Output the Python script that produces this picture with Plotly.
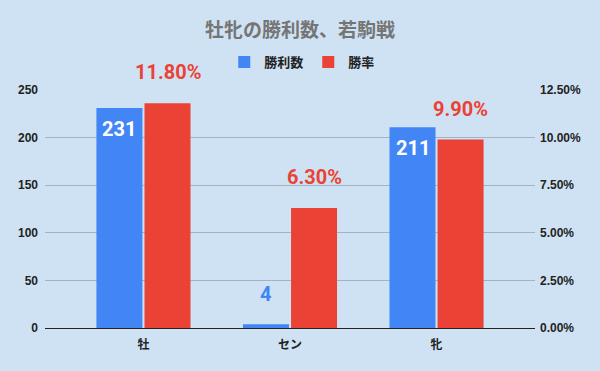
import plotly.graph_objects as go

categories = ["牡", "セン", "牝"]
wins = [231, 4, 211]
win_rate = [11.80, 6.30, 9.90]  # percent
left_ticks = [0, 50, 100, 150, 200, 250]
right_ticks = [0, 2.5, 5.0, 7.5, 10.0, 12.5]

BLUE = "#4285F4"
RED = "#EA4335"
BG = "#cfe2f3"
FONT = "Roboto, 'Noto Sans CJK JP', sans-serif"
JP = "'Noto Sans CJK JP', sans-serif"
TICKFONT = "'Liberation Sans', Arial, 'Noto Sans CJK JP', sans-serif"

bw = 0.314
fig = go.Figure()
fig.add_trace(go.Bar(x=categories, y=wins, name="<b>勝利数</b>", marker_color=BLUE,
                     marker_line_width=0,
                     width=bw, offset=-bw - 0.007, yaxis="y", hoverinfo="skip"))
fig.add_trace(go.Bar(x=categories, y=win_rate, name="<b>勝率</b>", marker_color=RED,
                     marker_line_width=0,
                     width=bw, offset=0.007, yaxis="y2", hoverinfo="skip"))

plot_h = 238
annotations = []
for i, v in enumerate(wins):
    px_h = v / 250 * plot_h
    inside = px_h > 45
    annotations.append(dict(
        x=i - bw / 2 - 0.007, y=v, xref="x", yref="y", text=f"<b>{v}</b>",
        showarrow=False, yanchor="top" if inside else "bottom",
        yshift=-7 if inside else 16,
        font=dict(family=FONT, size=20, color="white" if inside else BLUE)))
for i, v in enumerate(win_rate):
    annotations.append(dict(
        x=i + bw / 2 + 0.007, y=v, xref="x", yref="y2", text=f"<b>{v:.2f}%</b>",
        showarrow=False, yanchor="bottom", yshift=17,
        font=dict(family=FONT, size=20, color=RED)))

fig.update_layout(
    width=600, height=371,
    margin=dict(l=45, r=65, t=90, b=43),
    paper_bgcolor=BG, plot_bgcolor=BG,
    title=dict(text="<b>牡牝の勝利数、若駒戦</b>", x=0.5, xref="container", xanchor="center",
               y=1 - 30 / 371, yref="container", yanchor="middle",
               font=dict(family=JP, size=19, color="#757575")),
    legend=dict(orientation="h", x=0.525, xanchor="center", y=1 + 28 / 238, yanchor="middle",
                font=dict(family=JP, size=13, color="#222222"),
                bgcolor="rgba(0,0,0,0)", traceorder="normal"),
    showlegend=True,
    bargap=0.36,
    xaxis=dict(type="category", range=[-0.672, 2.672], showgrid=False, ticks="",
               tickvals=categories, ticktext=[f"<b>{c}</b>" for c in categories],
               tickfont=dict(family=JP, size=12, color="#222222"),
               ticklabelstandoff=8, showline=False, zeroline=False),
    yaxis=dict(range=[0, 250], tickvals=left_ticks, ticktext=[f"<b>{t}</b>" for t in left_ticks],
               showgrid=True, gridcolor="#a3b3c2", gridwidth=1,
               zeroline=True, zerolinecolor="#222222", zerolinewidth=1.2,
               tickfont=dict(family=TICKFONT, size=12, color="#222222"), ticks="",
               ticklabelstandoff=6, automargin=False),
    yaxis2=dict(range=[0, 12.5], overlaying="y", side="right", tickvals=right_ticks,
                ticktext=[f"<b>{t:.2f}%</b>" for t in right_ticks], showgrid=False, zeroline=False,
                tickfont=dict(family=TICKFONT, size=12, color="#222222"), ticks="",
                ticklabelstandoff=4, automargin=False),
    annotations=annotations,
)
fig.write_html("out.html")
